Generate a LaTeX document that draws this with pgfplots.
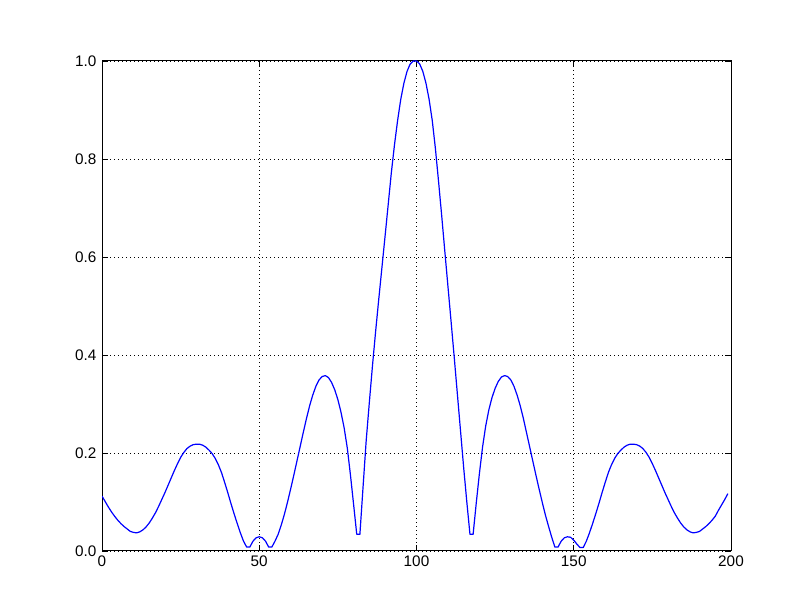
\documentclass[border=0pt]{standalone}
\usepackage{fontspec}
\setmainfont{Liberation Sans}
\usepackage{pgfplots}
\pgfplotsset{compat=1.18}
\begin{document}
\begin{tikzpicture}
\useasboundingbox (0,0) rectangle (812bp,612bp);
\begin{axis}[
  at={(102bp,61bp)}, anchor=south west,
  scale only axis, width=629bp, height=490bp,
  xmin=0, xmax=200, ymin=0, ymax=1,
  xtick={0,50,100,150,200},
  ytick={0,0.2,0.4,0.6,0.8,1.0},
  yticklabel style={/pgf/number format/fixed, /pgf/number format/fixed zerofill, /pgf/number format/precision=1, xshift=-2bp},
  /pgf/number format/assume math mode=true,
  tick label style={font=\fontsize{15.3bp}{18bp}\selectfont, black},
  xticklabel style={yshift=-1bp},
  tick align=inside, tick pos=both,
  major tick length=6bp,
  tick style={black, line width=0.8bp},
  axis line style={black, line width=1bp},
  grid=major,
  major grid style={black, line width=0.6bp, dash pattern=on 1bp off 3bp},
]
\addplot[color=blue, line width=1.2bp, line join=round] table {
x y
0 0.112
1 0.101
2 0.090
3 0.080
4 0.071
5 0.063
6 0.056
7 0.050
8 0.045
9 0.040
10 0.038
11 0.037
12 0.039
13 0.043
14 0.049
15 0.057
16 0.067
17 0.078
18 0.091
19 0.105
20 0.119
21 0.134
22 0.149
23 0.164
24 0.178
25 0.191
26 0.201
27 0.209
28 0.214
29 0.217
30 0.218
31 0.218
32 0.216
33 0.212
34 0.206
35 0.199
36 0.189
37 0.176
38 0.160
39 0.140
40 0.119
41 0.097
42 0.076
43 0.056
44 0.037
45 0.020
46 0.008
47 0.008
48 0.020
49 0.027
50 0.029
51 0.027
52 0.020
53 0.008
54 0.008
55 0.020
56 0.034
57 0.053
58 0.075
59 0.100
60 0.127
61 0.155
62 0.184
63 0.213
64 0.242
65 0.270
66 0.296
67 0.318
68 0.336
69 0.349
70 0.356
71 0.358
72 0.354
73 0.344
74 0.329
75 0.309
76 0.283
77 0.251
78 0.210
79 0.155
80 0.095
81 0.034
82 0.034
83 0.130
84 0.225
85 0.303
86 0.378
87 0.448
88 0.514
89 0.578
90 0.642
91 0.707
92 0.772
93 0.829
94 0.879
95 0.922
96 0.955
97 0.979
98 0.994
99 1.000
100 1.000
101 0.994
102 0.979
103 0.955
104 0.922
105 0.879
106 0.822
107 0.755
108 0.685
109 0.612
110 0.540
111 0.468
112 0.395
113 0.320
114 0.245
115 0.170
116 0.100
117 0.034
118 0.034
119 0.098
120 0.158
121 0.212
122 0.255
123 0.288
124 0.313
125 0.332
126 0.346
127 0.355
128 0.358
129 0.356
130 0.349
131 0.336
132 0.318
133 0.296
134 0.270
135 0.241
136 0.212
137 0.183
138 0.154
139 0.126
140 0.099
141 0.073
142 0.050
143 0.028
144 0.008
145 0.008
146 0.020
147 0.027
148 0.029
149 0.028
150 0.022
151 0.014
152 0.007
153 0.007
154 0.020
155 0.037
156 0.056
157 0.076
158 0.097
159 0.119
160 0.140
161 0.160
162 0.176
163 0.189
164 0.199
165 0.206
166 0.212
167 0.216
168 0.218
169 0.218
170 0.217
171 0.214
172 0.209
173 0.201
174 0.191
175 0.178
176 0.164
177 0.149
178 0.134
179 0.119
180 0.105
181 0.091
182 0.078
183 0.067
184 0.057
185 0.049
186 0.043
187 0.039
188 0.037
189 0.038
190 0.040
191 0.045
192 0.050
193 0.056
194 0.063
195 0.071
196 0.083
197 0.094
198 0.105
199 0.117
};
\end{axis}
\end{tikzpicture}
\end{document}
